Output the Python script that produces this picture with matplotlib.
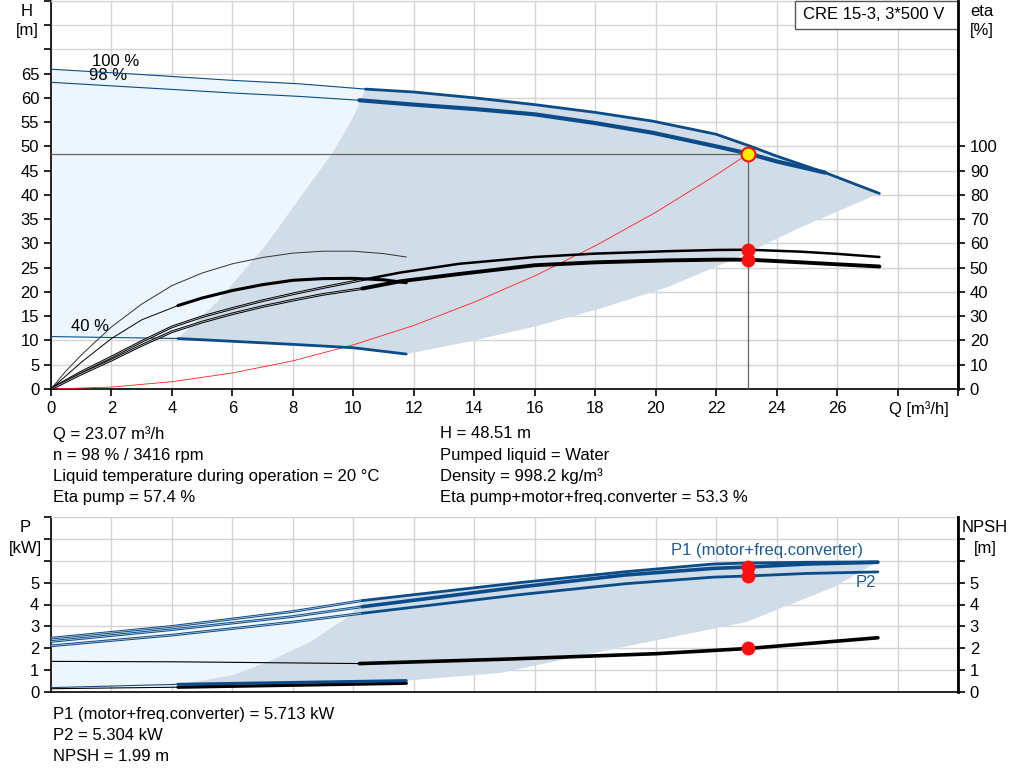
import numpy as np
import matplotlib
matplotlib.use("Agg")
import matplotlib.pyplot as plt
from matplotlib.patches import Polygon, Rectangle

plt.rcParams['font.family'] = ['Liberation Sans', 'DejaVu Sans']
FS = 12
plt.rcParams['font.size'] = FS

# ---- colours ----
BLUE = '#0b4b88'
LIGHT = '#edf5fd'
SHADE = '#d0dce7'
GRID = '#d4d4d4'

# ---- H curves (Q [m3/h], H [m]) ----
Q100 = [0, 3, 6, 8.2, 10.4, 12, 14, 16, 18, 19.9, 22, 23.1, 24, 25.6, 27.4]
H100 = [65.9, 64.8, 63.6, 62.9, 61.8, 61.2, 60.0, 58.6, 57.0, 55.2, 52.5, 50.1, 48.0, 44.6, 40.3]
Q98 = [0, 3, 6, 8.2, 10.2, 12, 14, 16, 18, 19.9, 22, 23.07, 24, 25.6]
H98 = [63.2, 62.1, 61.0, 60.3, 59.5, 58.6, 57.7, 56.6, 54.8, 52.8, 50.0, 48.51, 46.9, 44.6]
Q40 = [0, 4.2, 8, 10, 11.75]
H40 = [10.8, 10.4, 9.2, 8.5, 7.2]

# operating range boundaries
QMIN = [4.2, 5.5, 7.15, 8.3, 9.35, 10.0, 10.4]
HMIN = [10.4, 18, 30, 40, 49, 56, 61.8]
QMAX = [11.75, 13.76, 15.96, 18.18, 20.4, 22.6, 24.8, 27.4]
HMAX = [7.2, 9.7, 12.8, 16.6, 21.0, 26.8, 33.3, 40.3]

# system curve
QSYS = [0, 2, 4, 6, 8, 10, 12, 14, 16, 18, 20, 22, 23.07]
HSYS = [0, 0.4, 1.5, 3.3, 5.8, 9.1, 13.1, 17.9, 23.3, 29.5, 36.4, 44.1, 48.51]

# ---- eta curves [%] ----
QETA = [0, 1, 2, 3, 4, 5, 6, 7, 8, 9, 10.3, 11.56, 13.5, 16, 18, 20.4, 22, 23.07, 24.8, 26, 27.4]
ETA_PUMP = [0, 7, 13.2, 19.6, 25.6, 29.8, 33.2, 36.4, 39.2, 41.8, 45.0, 48, 51.6, 54.4,
            55.8, 56.8, 57.3, 57.4, 56.6, 55.7, 54.4]
ETA_TOTAL = [0, 6.2, 11.9, 18, 23.6, 27.6, 31, 34, 36.6, 39, 41.4, 44.4, 47.4, 51,
             52.2, 53, 53.3, 53.3, 52.2, 51.4, 50.5]
Q40P = [0, 0.5, 1, 2, 3, 4, 5, 6, 7, 8, 9, 10, 11, 11.75]
ETA40_PUMP = [0, 7.5, 14, 25.6, 35, 42.6, 47.8, 51.6, 54.2, 56, 56.8, 56.8, 55.8, 54.4]
Q40T = [0, 1, 2, 3, 4.2, 5, 6, 7, 8, 9, 10, 11, 11.75]
ETA40_TOTAL = [0, 11, 20.8, 28.5, 34.4, 37.5, 40.6, 43, 44.8, 45.5, 45.6, 45, 43.8]

# ---- power / NPSH ----
QP = [0, 4, 8, 10.3, 15.5, 19, 21.9, 23.07, 25, 27.35]
P1_100 = [2.46, 3.0, 3.68, 4.18, 5.0, 5.5, 5.85, 5.9, 5.93, 5.95]
P1_98 = [2.31, 2.85, 3.45, 3.9, 4.8, 5.35, 5.65, 5.713, 5.85, 5.93]
P2_98 = [2.11, 2.6, 3.2, 3.6, 4.45, 4.95, 5.25, 5.304, 5.42, 5.49]
QP40 = [0, 4.2, 11.75]
P1_40 = [0.2, 0.35, 0.52]
P2_40 = [0.15, 0.22, 0.4]
QN = [0, 4.2, 10.2, 15, 20, 23.07, 27.35]
NPSH = [1.4, 1.38, 1.3, 1.5, 1.75, 1.99, 2.48]
QPMIN = [4.2, 6.0, 7.15, 8.6, 9.35, 9.9, 10.3]
PMIN = [0.33, 0.77, 1.37, 2.3, 3.0, 3.5, 4.18]
QPMAX = [11.75, 14.86, 18.2, 23.0, 25.9, 27.35]
PMAX = [0.52, 0.87, 1.85, 3.2, 4.8, 5.95]

# duty point
Q_OP = 23.07
H_OP = 48.51
ETA_OP = [57.4, 53.3]
P_OP = [5.713, 5.304]
NPSH_OP = 1.99


def split_plot(ax, q, v, k, color, thin=0.8, thick=2.3, double=False):
    """thin line up to index k, thick line from index k"""
    if double:
        ax.plot(q[:k + 1], v[:k + 1], color=color, lw=1.9, solid_capstyle='butt', zorder=4)
        ax.plot(q[:k + 1], v[:k + 1], color='#c8d2dc', lw=0.5, zorder=4)
    else:
        ax.plot(q[:k + 1], v[:k + 1], color=color, lw=thin, zorder=4)
    ax.plot(q[k:], v[k:], color=color, lw=thick, solid_capstyle='round', zorder=4)


def style_axes(ax, ymax):
    ax.set_xlim(0, 30)
    ax.set_ylim(0, ymax)
    ax.set_xticks(np.arange(0, 31, 2))
    ax.grid(True, color=GRID, lw=1.0)
    ax.set_axisbelow(True)
    for s in ['left', 'bottom', 'right']:
        ax.spines[s].set_color('black')
        ax.spines[s].set_linewidth(1.2)
    ax.spines['top'].set_color(GRID)
    ax.tick_params(direction='out', length=5, width=1.2, colors='black', labelsize=FS)


fig = plt.figure(figsize=(10.24, 7.81), dpi=100)
L, R = 51 / 1024, 958 / 1024

# ================= H / eta chart =================
ax = fig.add_axes([L, 1 - 389 / 781, R - L, 389 / 781 - 0.001])
style_axes(ax, 80)
ax.set_yticks(np.arange(0, 81, 5))
ax.set_yticklabels([str(v) if v <= 65 else '' for v in range(0, 81, 5)])
for t in ax.yaxis.get_major_ticks()[-2:]:
    t.tick1line.set_visible(False)
ax.yaxis.get_major_ticks()[-3].tick1line.set_visible(True)
ax.set_xticklabels([str(v) if v <= 26 else '' for v in range(0, 31, 2)])

# light region (outside the normal operating range)
i_top = 4
light = np.concatenate([
    np.column_stack([Q100[:i_top + 1], H100[:i_top + 1]]),
    np.column_stack([QMIN[::-1], HMIN[::-1]]),
    np.column_stack([Q40[:2][::-1], H40[:2][::-1]]),
])
ax.add_patch(Polygon(light, closed=True, fc=LIGHT, ec='none', zorder=1))
shade = np.concatenate([
    np.column_stack([QMIN, HMIN]),
    np.column_stack([Q100[i_top:], H100[i_top:]]),
    np.column_stack([QMAX[::-1], HMAX[::-1]]),
    np.column_stack([Q40[1:][::-1], H40[1:][::-1]]),
])
ax.add_patch(Polygon(shade, closed=True, fc=SHADE, ec='none', zorder=1))

split_plot(ax, Q100, H100, 4, BLUE, thin=0.8, thick=2.0)
split_plot(ax, Q98, H98, 4, BLUE, thin=0.8, thick=3.0)
split_plot(ax, Q40, H40, 1, BLUE, thin=0.8, thick=2.0)

ax.plot(QSYS, HSYS, color='#ff2020', lw=0.6, zorder=3)
ax.plot([0, Q_OP], [H_OP, H_OP], color='#666666', lw=0.9, zorder=3)
ax.plot([Q_OP, Q_OP], [0, H_OP], color='#666666', lw=0.9, zorder=3)

ax.text(1.35, 67.4, '100 %', fontsize=FS, va='center')
ax.text(1.25, 64.6, '98 %', fontsize=FS, va='center')
ax.text(0.65, 12.9, '40 %', fontsize=FS, va='center')

# eta on a twin axis
ax2 = ax.twinx()
ax2.set_ylim(0, 160)
ax2.set_yticks(np.arange(0, 101, 10))
ax2.tick_params(direction='out', length=5, width=1.2, labelsize=FS)
for s in ax2.spines.values():
    s.set_visible(False)
ax2.spines['right'].set_visible(True)
ax2.spines['right'].set_linewidth(2.0)

split_plot(ax2, QETA, ETA_PUMP, 10, 'black', thick=1.8, double=True)
split_plot(ax2, QETA, ETA_TOTAL, 10, 'black', thick=2.8, double=True)
ax2.plot(Q40P, ETA40_PUMP, color='#333333', lw=0.7, zorder=4)
split_plot(ax2, Q40T, ETA40_TOTAL, 4, 'black', thin=0.7, thick=2.2)
ax2.plot([Q_OP] * 2, ETA_OP, 'o', color='#ff1010', ms=9, zorder=6)
ax2.plot(Q_OP, H_OP * 2, 'o', mfc='#ffee00', mec='#ff1010', mew=1.5, ms=10, zorder=7)

# title box
ax.add_patch(Rectangle((0.82, 0.928), 0.18, 0.072, transform=ax.transAxes,
                       fc='white', ec='#555555', lw=1.0, zorder=8, clip_on=False))
ax.text(0.829, 0.964, 'CRE 15-3, 3*500 V', transform=ax.transAxes,
        fontsize=FS, va='center', zorder=9)

# ================= P / NPSH chart =================
bx = fig.add_axes([L, 1 - 692 / 781, R - L, (692 - 517) / 781])
style_axes(bx, 8)
bx.set_yticks(np.arange(0, 9, 1))
bx.set_yticklabels([str(v) if v <= 5 else '' for v in range(0, 9)])
bx.yaxis.get_major_ticks()[-1].tick1line.set_visible(False)
bx.tick_params(axis='x', length=0, labelbottom=False)

j_top = 3
plight = np.concatenate([
    np.column_stack([QP[:j_top + 1], P1_100[:j_top + 1]]),
    np.column_stack([QPMIN[::-1], PMIN[::-1]]),
    np.column_stack([QP40[:2][::-1], P1_40[:2][::-1]]),
])
bx.add_patch(Polygon(plight, closed=True, fc=LIGHT, ec='none', zorder=1))
pshade = np.concatenate([
    np.column_stack([QPMIN, PMIN]),
    np.column_stack([QP[j_top:], P1_100[j_top:]]),
    np.column_stack([QPMAX[::-1], PMAX[::-1]]),
    np.column_stack([QP40[1:][::-1], P1_40[1:][::-1]]),
])
bx.add_patch(Polygon(pshade, closed=True, fc=SHADE, ec='none', zorder=1))

split_plot(bx, QP, P1_100, 3, BLUE, thick=2.0, double=True)
split_plot(bx, QP, P1_98, 3, BLUE, thick=2.6, double=True)
split_plot(bx, QP, P2_98, 3, BLUE, thick=2.0, double=True)
split_plot(bx, QP40, P2_40, 1, 'black', thin=0.8, thick=2.4)
split_plot(bx, QP40, P1_40, 1, BLUE, thin=0.8, thick=2.2)
split_plot(bx, QN, NPSH, 2, 'black', thin=0.8, thick=2.6)

bx.text(20.5, 6.45, 'P1 (motor+freq.converter)', color='#1d5c98', fontsize=FS, va='center')
bx.text(26.6, 5.0, 'P2', color='#1d5c98', fontsize=FS, va='center')

bx2 = bx.twinx()
bx2.set_ylim(0, 8)
bx2.set_yticks(np.arange(0, 9, 1))
bx2.set_yticklabels([str(v) if v <= 5 else '' for v in range(0, 9)])
bx2.yaxis.get_major_ticks()[-1].tick2line.set_visible(False)
bx2.tick_params(direction='out', length=5, width=1.2, labelsize=FS)
for s in bx2.spines.values():
    s.set_visible(False)
bx2.spines['right'].set_visible(True)
bx2.spines['right'].set_linewidth(2.0)
bx2.plot([Q_OP] * 3, P_OP + [NPSH_OP], 'o', color='#ff1010', ms=9, zorder=6)

# ================= axis titles and info text =================
def ftext(x, y, s, **kw):
    fig.text(x / 1024, 1 - y / 781, s, va='center', fontsize=FS, **kw)

ftext(27, 11, 'H', ha='center')
ftext(27, 30, '[m]', ha='center')
ftext(982, 11, 'eta', ha='center')
ftext(982, 30, '[%]', ha='center')
ftext(919, 409, 'Q [m³/h]', ha='center')
ftext(25, 527, 'P', ha='center')
ftext(25, 548, '[kW]', ha='center')
ftext(985, 527, 'NPSH', ha='center')
ftext(985, 548, '[m]', ha='center')

left_info = ['Q = 23.07 m³/h', 'n = 98 % / 3416 rpm',
             'Liquid temperature during operation = 20 °C', 'Eta pump = 57.4 %']
right_info = ['H = 48.51 m', 'Pumped liquid = Water', 'Density = 998.2 kg/m³',
              'Eta pump+motor+freq.converter = 53.3 %']
for i, (a, b) in enumerate(zip(left_info, right_info)):
    ftext(53, 434 + i * 21.2, a)
    ftext(440, 434 + i * 21.2, b)

bottom_info = ['P1 (motor+freq.converter) = 5.713 kW', 'P2 = 5.304 kW', 'NPSH = 1.99 m']
for i, s in enumerate(bottom_info):
    ftext(53, 714 + i * 21.2, s)

fig.savefig('out.png', dpi=100)
